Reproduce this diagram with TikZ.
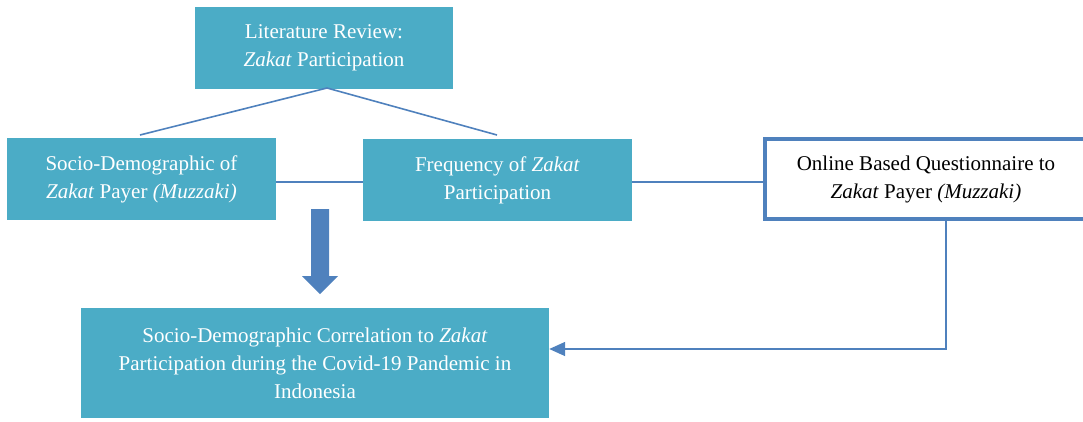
\documentclass[tikz,border=0pt]{standalone}
\usepackage{fontspec}
\setmainfont{Liberation Serif}
\usetikzlibrary{arrows.meta}
\definecolor{teal}{HTML}{4BACC6}
\definecolor{lineblue}{HTML}{4F81BD}
\tikzset{
  tealbox/.style={fill=teal, text=white, inner sep=0pt, align=center, font=\fontsize{21}{28}\selectfont},
  outlinebox/.style={draw=lineblue, line width=4pt, fill=white, text=black, inner sep=0pt, align=center, font=\fontsize{21}{28}\selectfont},
  link/.style={draw=lineblue, line width=1.6pt},
}
\begin{document}
\begin{tikzpicture}[x=1pt,y=-1pt]
\useasboundingbox (0,0) rectangle (1083,421);
\clip (0,0) rectangle (1083,421);
\node[tealbox, minimum width=258pt, minimum height=82pt] (lit) at (324,48) {Literature Review:\\\textit{Zakat} Participation};
\node[tealbox, minimum width=269pt, minimum height=82pt] (socio) at (141.5,179) {Socio-Demographic of\\\textit{Zakat} Payer \textit{(Muzzaki)}};
\node[tealbox, minimum width=269pt, minimum height=82pt] (freq) at (497.5,180) {Frequency of \textit{Zakat}\\Participation};
\node[outlinebox, minimum width=330pt, minimum height=80pt] (online) at (930,179) {};
\node[text=black, align=center, font=\fontsize{21}{28}\selectfont, inner sep=0pt] (onlinetext) at (926,179) {Online Based Questionnaire to\\\textit{Zakat} Payer \textit{(Muzzaki)}};
\node[tealbox, minimum width=468pt, minimum height=110pt] (result) at (315,363) {Socio-Demographic Correlation to \textit{Zakat}\\Participation during the Covid-19 Pandemic in\\Indonesia};
\coordinate (apex) at (327,88);
\coordinate (lend) at (140,135);
\coordinate (rend) at (497,135);
\draw[link] (lend) -- (apex) -- (rend);
\draw[link] (socio.east |- 0,182) -- (freq.west |- 0,182);
\draw[link] (freq.east |- 0,182) -- (online.west |- 0,182);
\coordinate (corner) at (946,349);
\draw[link, -{Triangle[length=16pt,width=14pt]}] (946,219) -- (corner) -- (result.east |- corner);
\fill[lineblue] (311,209) -- (329,209) -- (329,276) -- (338,276) -- (320,294) -- (302,276) -- (311,276) -- cycle;
\end{tikzpicture}
\end{document}
